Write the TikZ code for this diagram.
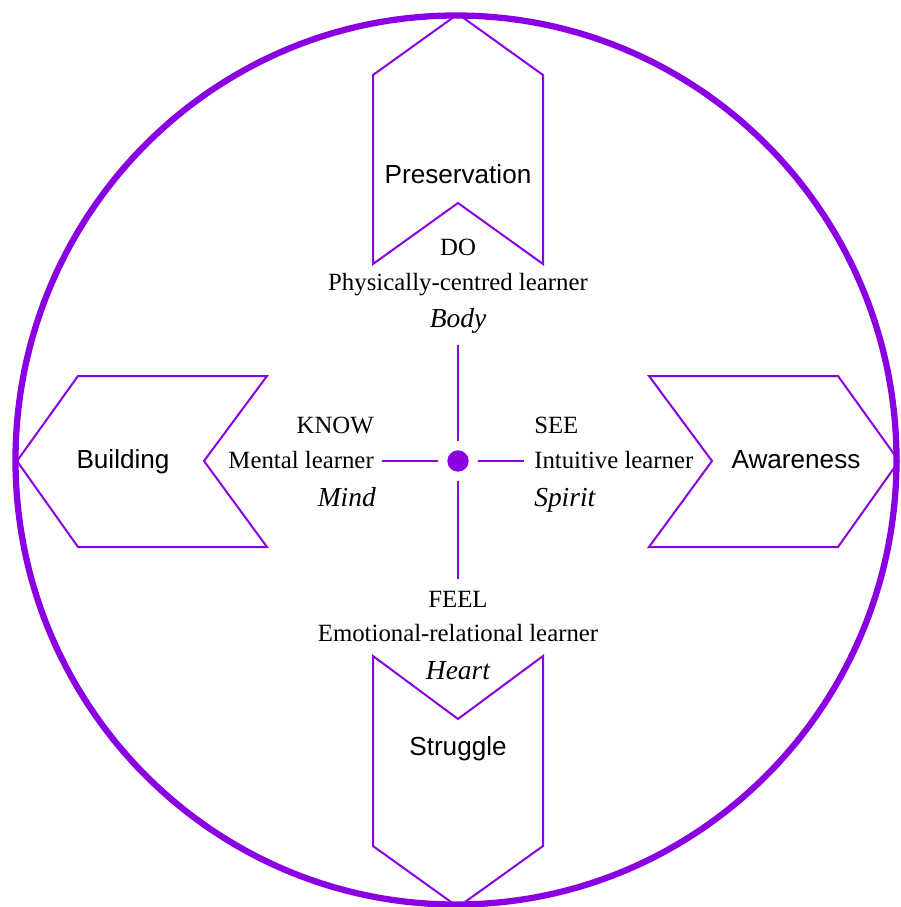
\documentclass[tikz,border=0pt]{standalone}
\usepackage{fontspec}
\setmainfont{Liberation Serif}
\newfontfamily\phasefont{Liberation Sans}
\usetikzlibrary{positioning}
\definecolor{learnviolet}{RGB}{138,0,226}

\begin{document}
\begin{tikzpicture}[
    x=0.75pt, y=-0.75pt,
    ring/.style = {draw=learnviolet, line width=4.7pt},
    chevron/.style = {draw=learnviolet, line width=1.5pt, line join=miter},
    spoke/.style = {draw=learnviolet, line width=1.5pt, shorten <=7pt},
    phase/.style = {font=\phasefont\fontsize{19.6}{22}\selectfont,
                    anchor=base, inner sep=0pt},
    learner/.style = {font=\fontsize{18.6}{22}\selectfont, inner sep=0pt},
    centre/.style = {font=\itshape\fontsize{20.6}{24}\selectfont, inner sep=0pt}
]
    \useasboundingbox (0,0) rectangle (900,907);

    \draw[ring] (456,460) ellipse [x radius=440.5, y radius=444.5];

    % the four chevrons
    \draw[chevron] (458,14) -- (543,75) -- (543,264) -- (458,203)
                   -- (373,264) -- (373,75) -- cycle;
    \draw[chevron] (17,461) -- (78,376) -- (267,376) -- (204,461)
                   -- (267,547) -- (78,547) -- cycle;
    \draw[chevron] (649,376) -- (838,376) -- (899,461) -- (838,547)
                   -- (649,547) -- (712,461) -- cycle;
    \draw[chevron] (373,656) -- (458,719) -- (543,656) -- (543,846)
                   -- (458,907) -- (373,846) -- cycle;

    \node[phase] (preservation) at (458,183) {Preservation};
    \node[phase] (building) at (123,468) {Building};
    \node[phase] (awareness) at (796,468) {Awareness};
    \node[phase] (struggle) at (458,755) {Struggle};

    % learners
    \node[learner, anchor=base] (do) at (458,255) {DO};
    \node[learner] (physical) [below=26.3pt of do.base, anchor=base] {Physically-centred learner};
    \node[centre] (body) [below=27.7pt of physical.base, anchor=base] {Body};

    \node[learner, anchor=base east] (know) at (374,433) {KNOW};
    \node[learner] (mental) [below=26.3pt of know.base east, anchor=base east] {Mental learner};
    \node[centre] (mind) [below=28.5pt of mental.base east, anchor=base east, xshift=1.5pt] {Mind};

    \node[learner, anchor=base west] (see) at (534,433) {SEE};
    \node[learner] (intuitive) [below=26.3pt of see.base west, anchor=base west] {Intuitive learner};
    \node[centre] (spirit) [below=28.5pt of intuitive.base west, anchor=base west] {Spirit};

    \node[learner, anchor=base] (feel) at (458,607) {FEEL};
    \node[learner] (emotional) [below=25.5pt of feel.base, anchor=base] {Emotional-relational learner};
    \node[centre] (heart) [below=29.2pt of emotional.base, anchor=base] {Heart};

    % centre and spokes
    \node[circle, fill=learnviolet, inner sep=0pt, minimum size=16pt] (dot) at (458,461) {};
    \coordinate (topend) at (458,345);
    \coordinate (leftend) at (382,461);
    \coordinate (rightend) at (524,461);
    \coordinate (bottomend) at (458,579);

    \draw[spoke] (dot) -- (topend);
    \draw[spoke] (dot) -- (leftend);
    \draw[spoke] (dot) -- (rightend);
    \draw[spoke] (dot) -- (bottomend);

\end{tikzpicture}
\end{document}
